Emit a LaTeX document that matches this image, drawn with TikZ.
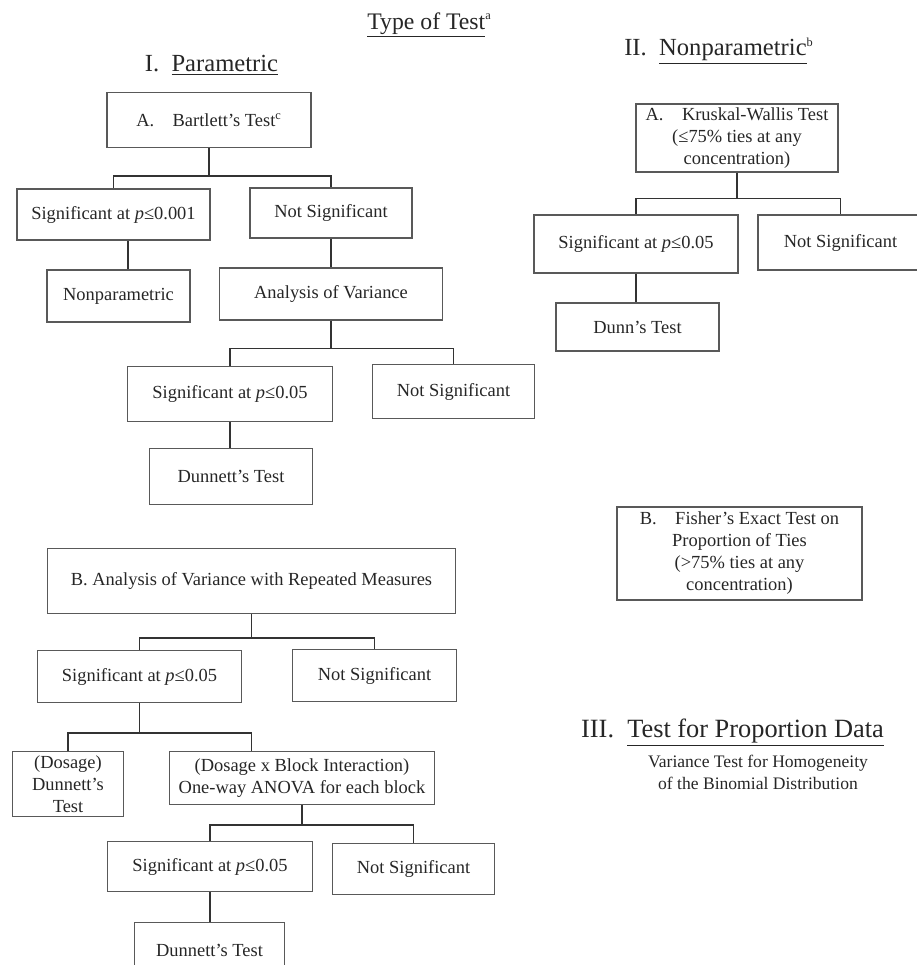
\documentclass[tikz,border=0pt]{standalone}
\usepackage{fontspec}
\setmainfont{Liberation Serif}
\usepackage{tikz}
\usetikzlibrary{positioning}
\newcommand{\fnmark}[1]{\textsuperscript{\fontsize{7}{8}\selectfont #1}}
\tikzstyle{testbox} = [rectangle, draw=black!65, line width=0.6pt, text centered, align=center, text=black!85, font=\fontsize{10.5}{12.5}\selectfont, inner sep=1pt]
\tikzstyle{heading} = [text=black!85, font=\fontsize{14}{16}\selectfont]
\tikzstyle{link} = [line width=0.9pt, draw=black!80]

\begin{document}
\begin{tikzpicture}[node distance=2cm]
\useasboundingbox (0,0) rectangle (18.34,-19.3);
% headings
\node (title) [heading, font=\fontsize{13.5}{16}\selectfont] at (8.59,-0.5) {\underline{Type of Test}\fnmark{a}};
\node (parhead) [heading] at (4.23,-1.3) {I.\hspace{0.5em}\underline{Parametric}};
\node (nonparhead) [heading] at (14.38,-1.02) {II.\hspace{0.5em}\underline{Nonparametric}\fnmark{b}};
\node (prophead) [heading, font=\fontsize{15}{17}\selectfont] at (14.65,-14.66) {III.\hspace{0.5em}\underline{Test for Proportion Data}};
\node (propsub) [text=black!85, align=center, font=\fontsize{10}{12.5}\selectfont] at (15.16,-15.44) {Variance Test for Homogeneity\\of the Binomial Distribution};

% I. parametric, A
\node (bart) [testbox, below of=parhead, xshift=-0.05cm, yshift=0.9cm, minimum width=4.08cm, minimum height=1.1cm] {A.\hspace{1em}Bartlett's Test\fnmark{c}};
\node (sigA) [testbox, below of=bart, xshift=-1.91cm, yshift=0.11cm, minimum width=3.86cm, minimum height=1.02cm] {Significant at \textit{p}≤0.001};
\node (nsigA) [testbox, right of=sigA, xshift=2.35cm, yshift=0.03cm, minimum width=3.24cm, minimum height=1.0cm] {Not Significant};
\node (nonpar) [testbox, below of=sigA, xshift=0.1cm, yshift=0.37cm, minimum width=2.86cm, minimum height=1.04cm] {Nonparametric};
\node (aov) [testbox, below of=nsigA, yshift=0.38cm, minimum width=4.46cm, minimum height=1.04cm] {Analysis of Variance};
\node (sigB) [testbox, below of=aov, xshift=-2.02cm, minimum width=4.1cm, minimum height=1.1cm] {Significant at \textit{p}≤0.05};
\node (nsigB) [testbox, right of=sigB, xshift=2.47cm, yshift=0.05cm, minimum width=3.24cm, minimum height=1.08cm] {Not Significant};
\node (dunA) [testbox, below of=sigB, xshift=0.02cm, yshift=0.35cm, minimum width=3.26cm, minimum height=1.12cm] {Dunnett's Test};

% I. parametric, B
\node (rep) [testbox, below of=dunA, xshift=0.41cm, yshift=-0.09cm, minimum width=8.16cm, minimum height=1.3cm] {B. Analysis of Variance with Repeated Measures};
\node (sigC) [testbox, below of=rep, xshift=-2.24cm, yshift=0.09cm, minimum width=4.08cm, minimum height=1.04cm] {Significant at \textit{p}≤0.05};
\node (nsigC) [testbox, right of=sigC, xshift=2.7cm, yshift=0.02cm, minimum width=3.28cm, minimum height=1.04cm] {Not Significant};
\node (dos) [testbox, below of=sigC, xshift=-1.43cm, yshift=-0.15cm, minimum width=2.22cm, minimum height=1.3cm] {(Dosage)\\Dunnett's\\Test};
\node (block) [testbox, right of=dos, xshift=2.68cm, yshift=0.12cm, minimum width=5.3cm, minimum height=1.06cm] {(Dosage x Block Interaction)\\One-way ANOVA for each block};
\node (sigD) [testbox, below of=block, xshift=-1.84cm, yshift=0.23cm, minimum width=4.1cm, minimum height=1.0cm] {Significant at \textit{p}≤0.05};
\node (nsigD) [testbox, right of=sigD, xshift=2.07cm, yshift=-0.05cm, minimum width=3.24cm, minimum height=1.02cm] {Not Significant};
\node (dunD) [testbox, below of=sigD, xshift=-0.01cm, yshift=0.33cm, minimum width=3.0cm, minimum height=1.1cm] {Dunnett's Test};

% II. nonparametric
\node (kw) [testbox, below of=nonparhead, xshift=0.36cm, yshift=0.26cm, minimum width=4.04cm, minimum height=1.36cm] {A.\hspace{1em}Kruskal-Wallis Test\\(≤75\% ties at any\\concentration)};
\node (sigK) [testbox, below of=kw, xshift=-2.02cm, yshift=-0.12cm, minimum width=4.08cm, minimum height=1.16cm] {Significant at \textit{p}≤0.05};
\node (nsigK) [testbox, right of=sigK, xshift=2.09cm, yshift=0.03cm, minimum width=3.3cm, minimum height=1.1cm] {Not Significant};
\node (dunn) [testbox, below of=sigK, xshift=0.03cm, yshift=0.34cm, minimum width=3.26cm, minimum height=0.96cm] {Dunn's Test};
\node (fisher) [testbox, minimum width=4.9cm, minimum height=1.86cm] at (14.79,-11.07) {B.\hspace{1em}Fisher's Exact Test on\\Proportion of Ties\\(>75\% ties at any\\concentration)};

% connectors
\draw [link] (bart.south) -- ++(0,-0.56) -| (sigA.north);
\draw [link] (bart.south) -- ++(0,-0.56) -| (nsigA.north);
\draw [link] ([xshift=0.19cm]nonpar.north) -- ([xshift=0.19cm]nonpar.north |- sigA.south);
\draw [link] (nsigA.south) -- (nsigA.south |- aov.north);
\draw [link] (aov.south) -- ++(0,-0.56) -| (sigB.north);
\draw [link] (aov.south) -- ++(0,-0.56) -| (nsigB.north);
\draw [link] (sigB.south) -- (sigB.south |- dunA.north);
\draw [link] (rep.south) -- ++(0,-0.48) -| (sigC.north);
\draw [link] (rep.south) -- ++(0,-0.48) -| (nsigC.north);
\draw [link] (sigC.south) -- ++(0,-0.6) -| (dos.north);
\draw [link] (sigC.south) -- ++(0,-0.6) -| ([xshift=-1.01cm]block.north);
\draw [link] (block.south) -- ++(0,-0.4) -| (sigD.north);
\draw [link] (block.south) -- ++(0,-0.4) -| (nsigD.north);
\draw [link] (sigD.south) -- (sigD.south |- dunD.north);
\draw [link] (kw.south) -- ++(0,-0.52) -| (sigK.north);
\draw [link] (kw.south) -- ++(0,-0.52) -| (nsigK.north);
\draw [link] (sigK.south) -- (sigK.south |- dunn.north);
\end{tikzpicture}
\end{document}
